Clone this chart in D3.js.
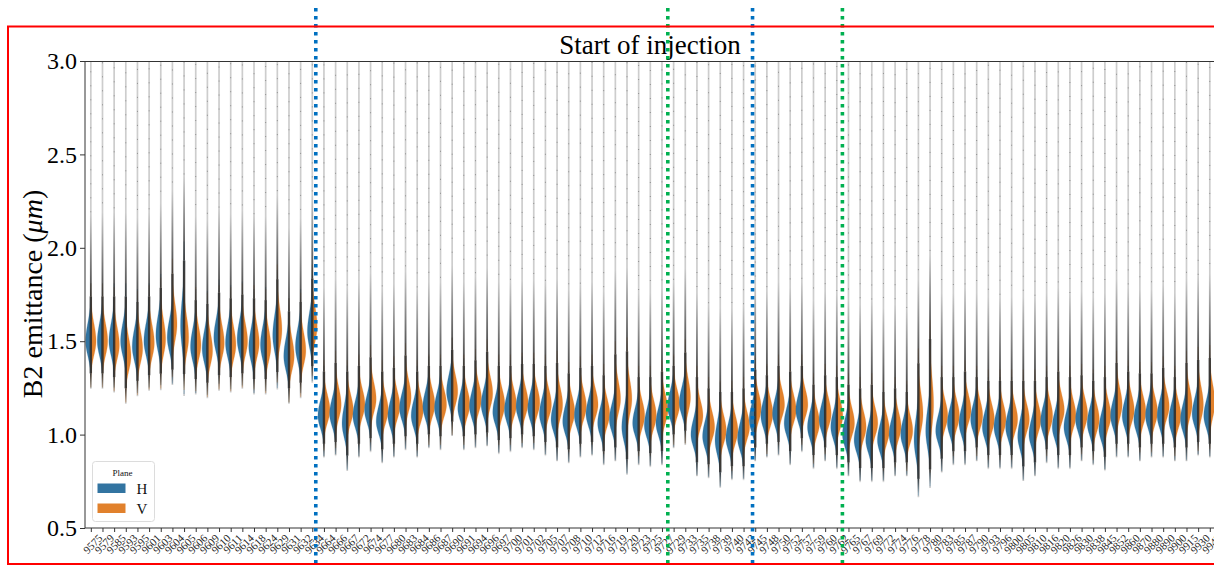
<!DOCTYPE html>
<html>
<head>
<meta charset="utf-8">
<script src="https://cdn.jsdelivr.net/npm/d3@7"></script>
<style>
  html, body { margin: 0; padding: 0; background: #ffffff; }
  svg { display: block; }
</style>
</head>
<body>
<svg id="chart" width="1214" height="566"></svg>
<script>
// Fill numbers along the x axis
const fills = [
  "9575","9579","9585","9593","9595","9601","9603","9604","9605","9606",
  "9609","9610","9611","9614","9618","9624","9629","9631","9632","9634",
  "9664","9666","9667","9672","9674","9677","9680","9683","9684","9686",
  "9687","9690","9691","9694","9696","9697","9700","9701","9702","9705",
  "9707","9708","9710","9712","9716","9719","9720","9723","9725","9727",
  "9729","9733","9735","9738","9739","9740","9742","9745","9748","9750",
  "9752","9757","9759","9760","9762","9765","9767","9769","9772","9774",
  "9776","9778","9780","9783","9785","9787","9790","9793","9796","9800",
  "9805","9810","9816","9820","9826","9830","9838","9845","9852","9860",
  "9870","9880","9890","9900","9915","9930","9942"
];

// Most likely emittance per fill (µm), horizontal plane
const hMode = [
  1.50,1.50,1.50,1.50,1.47,1.50,1.53,1.52,1.58,1.47,1.46,1.52,1.49,1.51,1.47,1.48,1.53,1.42,1.47,1.55,
  1.10,1.11,1.06,1.10,1.13,1.07,1.10,1.14,1.10,1.15,1.14,1.23,1.14,1.15,1.16,1.12,1.13,1.15,1.14,
  1.11,1.08,1.07,1.10,1.11,1.06,1.08,1.04,1.06,1.05,1.06,1.15,1.17,1.00,0.99,0.97,0.98,0.98,
  1.08,1.10,1.11,1.06,1.13,1.04,1.08,1.04,1.00,0.97,0.97,0.97,1.00,1.00,0.97,1.02,1.02,1.06,1.06,1.08,
  1.04,1.04,1.04,0.99,1.00,1.07,1.04,1.04,1.08,1.06,1.03,1.10,1.10,1.08,1.10,1.10,1.08,1.08,1.11,1.10
];
// Most likely emittance per fill (µm), vertical plane
const vMode = [
  1.50,1.50,1.48,1.42,1.46,1.49,1.51,1.59,1.52,1.48,1.45,1.49,1.48,1.50,1.49,1.47,1.56,1.42,1.45,1.58,
  1.13,1.16,1.13,1.16,1.19,1.13,1.15,1.20,1.13,1.16,1.16,1.23,1.16,1.19,1.22,1.16,1.16,1.17,1.17,
  1.16,1.16,1.12,1.15,1.16,1.11,1.19,1.19,1.10,1.10,1.13,1.16,1.20,1.10,1.04,1.02,1.02,1.04,
  1.14,1.11,1.16,1.13,1.16,1.06,1.11,1.10,1.06,1.04,1.06,1.02,1.04,1.02,1.11,1.16,1.10,1.10,1.13,1.10,
  1.08,1.08,1.08,1.08,1.08,1.10,1.13,1.10,1.11,1.08,1.10,1.16,1.13,1.12,1.12,1.15,1.10,1.16,1.16,1.17
];
// Spread of each distribution (µm)
const hSpread = [
  .075,.075,.075,.075,.075,.075,.08,.075,.11,.075,.075,.075,.075,.075,.075,.075,.085,.075,.075,.08,
  .065,.065,.075,.065,.065,.065,.065,.065,.065,.065,.065,.07,.065,.065,.065,.065,.065,.065,.065,
  .065,.065,.065,.065,.065,.065,.065,.075,.065,.065,.065,.065,.065,.065,.065,.075,.065,.065,
  .065,.065,.065,.065,.065,.065,.065,.065,.065,.065,.065,.065,.065,.065,.09,.09,.065,.065,.065,.065,
  .065,.065,.065,.07,.065,.065,.065,.065,.065,.065,.065,.065,.065,.065,.065,.065,.065,.065,.065,.065
];
const vSpread = [
  .075,.075,.075,.075,.075,.075,.08,.085,.085,.075,.075,.075,.075,.075,.075,.075,.085,.075,.075,.08,
  .065,.07,.065,.065,.07,.065,.065,.07,.065,.065,.065,.07,.065,.065,.07,.065,.065,.065,.065,
  .065,.07,.065,.065,.065,.065,.075,.08,.065,.065,.065,.065,.075,.065,.065,.065,.065,.065,
  .065,.065,.065,.065,.065,.065,.065,.065,.065,.065,.065,.065,.065,.065,.085,.11,.065,.065,.065,.065,
  .065,.065,.065,.065,.065,.065,.065,.065,.065,.065,.065,.07,.065,.065,.065,.065,.065,.07,.075,.075
];

const yTicks = [0.5, 1.0, 1.5, 2.0, 2.5, 3.0];
const planes = ["H", "V"];
// Event markers, as positions on the fill axis
const blueMarkers = [19.3, 56.77];
const greenMarkers = [49.5, 64.48];

const svg = d3.select("#chart");
const W = 1214, H = 566;
const plotL = 85, plotT = 61, plotB = 528;
const n = fills.length;
const step = 11.656;
const plotR = plotL + n * step;
const serif = "'Liberation Serif', 'Times New Roman', serif";

const x = d3.scalePoint().domain(fills).range([plotL, plotR]).padding(0.5);
const xPos = d3.scaleLinear().domain([-0.5, n - 0.5]).range([plotL, plotR]);
const y = d3.scaleLinear().domain([0.5, 3.0]).range([plotB, plotT]);
const colour = d3.scaleOrdinal().domain(planes).range(["#3274a1", "#e1812c"]);

const defs = svg.append("defs");
defs.append("clipPath").attr("id", "plotClip")
  .append("rect").attr("x", plotL).attr("y", plotT).attr("width", plotR - plotL).attr("height", plotB - plotT);
const fadeUp = defs.append("linearGradient").attr("id", "fadeUp")
  .attr("x1", 0).attr("y1", 0).attr("x2", 0).attr("y2", 1);
fadeUp.append("stop").attr("offset", "0%").attr("stop-color", "#2b2b2b").attr("stop-opacity", 0);
fadeUp.append("stop").attr("offset", "100%").attr("stop-color", "#2b2b2b").attr("stop-opacity", 0.85);
const fadeDown = defs.append("linearGradient").attr("id", "fadeDown")
  .attr("x1", 0).attr("y1", 0).attr("x2", 0).attr("y2", 1);
fadeDown.append("stop").attr("offset", "0%").attr("stop-color", "#2b2b2b").attr("stop-opacity", 0.85);
fadeDown.append("stop").attr("offset", "100%").attr("stop-color", "#2b2b2b").attr("stop-opacity", 0);

svg.append("rect").attr("width", W).attr("height", H).attr("fill", "#ffffff");

const plot = svg.append("g").attr("clip-path", "url(#plotClip)");

const rows = fills.map((f, i) => ({
  fill: f, i,
  H: { m: hMode[i], s: hSpread[i] },
  V: { m: vMode[i], s: vSpread[i] }
}));

// thin grey tails running to the top of the axes
plot.selectAll("line.tail").data(rows).join("line")
  .attr("class", "tail")
  .attr("x1", d => x(d.fill)).attr("x2", d => x(d.fill))
  .attr("y1", y(3.05))
  .attr("y2", d => y(Math.min(d.H.m - 3.4 * d.H.s, d.V.m - 3.4 * d.V.s)))
  .attr("stroke", "#cdcdcd").attr("stroke-width", 1.7);

// half-violin outline for one plane
function halfProfile(p) {
  const sLo = p.s, sHi = p.s * 1.25;
  return d3.range(-3.3, 3.31, 0.1).map(k => {
    const v = k < 0 ? p.m + k * sLo : p.m + k * sHi;
    return { v, d: Math.exp(-0.5 * k * k) };
  });
}
const half = (side, wMax, cx) => d3.area()
  .curve(d3.curveBasis)
  .y(d => y(d.v))
  .x0(cx)
  .x1(d => cx + side * wMax * d.d);

rows.forEach(r => {
  const cx = x(r.fill);
  planes.forEach((pl, k) => {
    const p = r[pl];
    const wMax = Math.min(6.2, 5.6 * 0.07 / p.s);
    plot.append("path")
      .datum(halfProfile(p))
      .attr("d", half(k === 0 ? -1 : 1, wMax, cx))
      .attr("fill", colour(pl))
      .attr("stroke", colour(pl)).attr("stroke-opacity", 0.35).attr("stroke-width", 0.6);
  });
});

// dense strip of shot points down the middle of every violin
rows.forEach(r => {
  const cx = x(r.fill);
  const lo = Math.min(r.H.m - 2.3 * r.H.s, r.V.m - 2.3 * r.V.s);
  const hi = Math.max(r.H.m + 3.2 * r.H.s, r.V.m + 3.2 * r.V.s);
  plot.append("rect")
    .attr("x", cx - 1.2).attr("width", 2.4)
    .attr("y", y(hi)).attr("height", y(lo) - y(hi))
    .attr("fill", "#2b2b2b").attr("opacity", 0.88);
  plot.append("rect")
    .attr("x", cx - 0.9).attr("width", 1.8)
    .attr("y", y(hi + 0.45)).attr("height", y(hi) - y(hi + 0.45))
    .attr("fill", "url(#fadeUp)");
  plot.append("rect")
    .attr("x", cx - 0.8).attr("width", 1.6)
    .attr("y", y(lo)).attr("height", y(lo - 0.08) - y(lo))
    .attr("fill", "url(#fadeDown)");
  plot.append("line")
    .attr("x1", cx).attr("x2", cx)
    .attr("y1", y(hi + 0.45)).attr("y2", y(3.05))
    .attr("stroke", "#333").attr("stroke-width", 1)
    .attr("stroke-opacity", 0.4)
    .attr("stroke-dasharray", "1,13")
    .attr("stroke-dashoffset", (r.i * 5) % 14);
});

// axes frame
const frame = svg.append("g").attr("stroke", "#333").attr("stroke-width", 1).attr("fill", "none");
frame.append("line").attr("x1", plotL).attr("x2", plotL).attr("y1", plotT).attr("y2", plotB);
frame.append("line").attr("x1", plotL).attr("x2", plotR).attr("y1", plotT + 0.5).attr("y2", plotT + 0.5);
frame.append("line").attr("x1", plotL).attr("x2", plotR).attr("y1", plotB).attr("y2", plotB);
frame.append("line").attr("x1", plotR).attr("x2", plotR).attr("y1", plotT).attr("y2", plotB);

// y axis
const yAxis = d3.axisLeft(y).tickValues(yTicks).tickFormat(d3.format(".1f")).tickSize(5).tickPadding(3);
const gy = svg.append("g").attr("transform", `translate(${plotL},0)`).call(yAxis);
gy.select(".domain").remove();
gy.selectAll("line").attr("stroke", "#333");
gy.selectAll("text")
  .attr("font-family", serif)
  .attr("font-size", 24).attr("fill", "#000");

// x axis
const xAxis = d3.axisBottom(x).tickSize(4).tickPadding(2);
const gx = svg.append("g").attr("transform", `translate(0,${plotB})`).call(xAxis);
gx.select(".domain").remove();
gx.selectAll("line").attr("stroke", "#333");
gx.selectAll("text")
  .attr("font-family", serif)
  .attr("font-size", 11).attr("fill", "#222")
  .attr("text-anchor", "end")
  .attr("dy", "0.6em")
  .attr("transform", "translate(3,2) rotate(-45)");

// y label
const yl = svg.append("text")
  .attr("transform", "translate(42,294) rotate(-90)")
  .attr("text-anchor", "middle")
  .attr("font-family", serif)
  .attr("font-size", 28).attr("fill", "#000");
yl.append("tspan").text("B2 emittance (");
yl.append("tspan").attr("font-style", "italic").text("μm");
yl.append("tspan").text(")");

// title
svg.append("text")
  .attr("x", 650).attr("y", 54)
  .attr("text-anchor", "middle")
  .attr("font-family", serif)
  .attr("font-size", 27).attr("fill", "#000")
  .text("Start of injection");

// legend
const lg = svg.append("g").attr("transform", "translate(92.5,461.5)");
lg.append("rect").attr("width", 62).attr("height", 60).attr("rx", 3)
  .attr("fill", "#fff").attr("fill-opacity", 0.85).attr("stroke", "#dcdcdc");
lg.append("text").attr("x", 30).attr("y", 14).attr("text-anchor", "middle")
  .attr("font-family", serif)
  .attr("font-size", 9).attr("fill", "#111").text("Plane");
planes.forEach((pl, k) => {
  lg.append("rect").attr("x", 5).attr("y", 22 + k * 20).attr("width", 28).attr("height", 9.5)
    .attr("fill", colour(pl));
  lg.append("text").attr("x", 44).attr("y", 32.5 + k * 20)
    .attr("font-family", serif)
    .attr("font-size", 15).attr("fill", "#111").text(pl);
});

// dotted event markers
const markerG = svg.append("g");
blueMarkers.forEach(p => markerG.append("line")
  .attr("x1", xPos(p)).attr("x2", xPos(p)).attr("y1", 8).attr("y2", H)
  .attr("stroke", "#0070c0").attr("stroke-width", 3.6).attr("stroke-dasharray", "3.6,4.4"));
greenMarkers.forEach(p => markerG.append("line")
  .attr("x1", xPos(p)).attr("x2", xPos(p)).attr("y1", 8).attr("y2", H)
  .attr("stroke", "#00b050").attr("stroke-width", 3.6).attr("stroke-dasharray", "3.6,4.4"));

// red outline
svg.append("rect").attr("x", 8).attr("y", 26.5).attr("width", 1240).attr("height", 537.5)
  .attr("fill", "none").attr("stroke", "#ff0000").attr("stroke-width", 2);
</script>
</body>
</html>
